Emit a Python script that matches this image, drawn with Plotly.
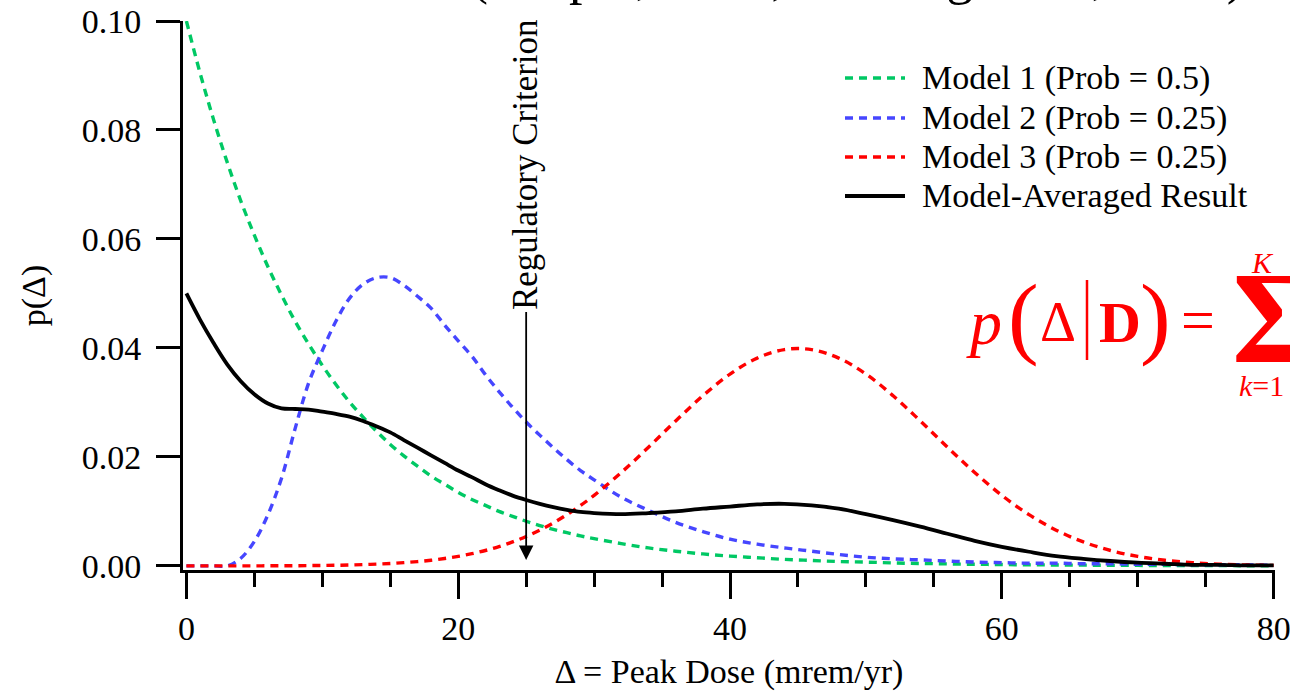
import plotly.graph_objects as go

# ---------------- data ----------------
dose = list(range(0, 31)) + list(range(32, 81, 2))

model1 = [0.1000, 0.0905, 0.0819, 0.0741, 0.0670, 0.0607, 0.0549, 0.0497, 0.0449, 0.0407,
          0.0368, 0.0333, 0.0301, 0.0273, 0.0247, 0.0223, 0.0202, 0.0183, 0.0165, 0.0150,
          0.0135, 0.0122, 0.0111, 0.0100, 0.0091, 0.0082, 0.0074, 0.0067, 0.0061, 0.0055,
          0.0050,
          0.0041, 0.0033, 0.0027, 0.0022, 0.0018, 0.0015, 0.0012, 0.0010, 0.0008, 0.0007,
          0.00055, 0.00045, 0.00037, 0.0003, 0.00025, 0.0002, 0.00017, 0.00014, 0.00011, 0.00009,
          0.00007, 0.00006, 0.00005, 0.00004, 0.00003]

model2 = [0.0, 0.0, 0.0, 0.0, 0.0014, 0.0045, 0.0094, 0.0161, 0.0252, 0.0336,
          0.0395, 0.0449, 0.0491, 0.0517, 0.0529, 0.0529, 0.0515, 0.0495, 0.0473, 0.0442,
          0.0413, 0.0385, 0.0351, 0.0320, 0.0291, 0.0264, 0.0240, 0.0217, 0.0195, 0.0175,
          0.0158,
          0.0126, 0.0102, 0.0080, 0.0063, 0.0049, 0.0040, 0.0033, 0.0027, 0.0021, 0.0016,
          0.0013, 0.0011, 0.0009, 0.0007, 0.0006, 0.0005, 0.0005, 0.0004, 0.0004, 0.0003,
          0.0003, 0.0002, 0.0002, 0.0002, 0.0001]

model3 = [0.00000, 0.00000, 0.00000, 0.00001, 0.00001, 0.00001, 0.00002, 0.00003, 0.00004, 0.00006,
          0.00009, 0.00012, 0.00017, 0.00024, 0.00033, 0.00044, 0.00060, 0.00079, 0.00104, 0.00136,
          0.00175, 0.00224, 0.00283, 0.00355, 0.00440, 0.00540, 0.00656, 0.00790, 0.00940, 0.01109,
          0.01295,
          0.01714, 0.02178, 0.02661, 0.03122, 0.03521, 0.03814, 0.03970, 0.03970, 0.03814, 0.03521,
          0.03122, 0.02661, 0.02178, 0.01714, 0.01295, 0.00940, 0.00656, 0.00440, 0.00283, 0.00175,
          0.00104, 0.00060, 0.00033, 0.00017, 0.00009]

averaged = [0.0500, 0.0452, 0.0409, 0.0370, 0.0339, 0.0315, 0.0298, 0.0289, 0.0288, 0.0287,
            0.0283, 0.0279, 0.0274, 0.0266, 0.0256, 0.0245, 0.0231, 0.0217, 0.0203, 0.0189,
            0.0175, 0.0163, 0.0150, 0.0139, 0.0129, 0.0121, 0.0114, 0.0108, 0.0103, 0.0099,
            0.0097,
            0.0095, 0.0097, 0.0100, 0.0105, 0.0109, 0.0113, 0.0114, 0.0111, 0.0105, 0.0095,
            0.0084, 0.0072, 0.0059, 0.0046, 0.0035, 0.0026, 0.0018, 0.0013, 0.0009, 0.0006,
            0.0004, 0.0002, 0.0002, 0.0001, 0.0001]

series_names = ["Model 1 (Prob = 0.5)", "Model 2 (Prob = 0.25)",
                "Model 3 (Prob = 0.25)", "Model-Averaged Result"]
criterion = 25
x_ticks = [0, 20, 40, 60, 80]
y_ticks = [0.00, 0.02, 0.04, 0.06, 0.08, 0.10]

# ---------------- styling ----------------
FONT = "Liberation Serif, Times New Roman, serif"
FS = 34
GREEN, BLUE, RED, BLACK = "#00C864", "#4646FF", "#FF0000", "#000000"
DASH = "8px,6px"

W_FIG, H_FIG = 1290, 691
L, R, T, B = 183, 1275, 21, 570


def px(xp):
    return (xp - L) / (R - L)


def py(yp):
    return (B - yp) / (B - T)


fig = go.Figure()
styles = [(model1, GREEN, DASH, 3.4), (model2, BLUE, DASH, 3.4),
          (model3, RED, DASH, 3.4), (averaged, BLACK, "solid", 3.8)]
for (ys, col, dash, w), name in zip(styles, series_names):
    fig.add_trace(go.Scatter(x=dose, y=ys, mode="lines", name=name,
                             line=dict(color=col, width=w, dash=dash, shape="spline"),
                             showlegend=False, cliponaxis=False))

annotations = []
shapes = []

# manual legend (long line samples as in the reference)
leg_rows = [78, 118, 157, 196]
for (ys, col, dash, w), name, yr in zip(styles, series_names, leg_rows):
    shapes.append(dict(type="line", xref="paper", yref="paper",
                       x0=px(845), x1=px(905), y0=py(yr), y1=py(yr),
                       line=dict(color=col, width=w, dash=dash)))
    annotations.append(dict(xref="paper", yref="paper", x=px(920), y=py(yr),
                            xanchor="left", yanchor="middle", showarrow=False,
                            text=name, font=dict(family=FONT, size=FS, color="black")))

# regulatory criterion arrow
annotations.append(dict(x=criterion, y=0.0011, xref="x", yref="y",
                        text="Regulatory Criterion", textangle=-90,
                        showarrow=True, ax=0, ay=-395, arrowhead=2, arrowsize=1.6,
                        arrowwidth=1.8, arrowcolor="black",
                        font=dict(family=FONT, size=35, color="black")))


# red formula on the right (partly cut off by the page edge, as in the reference)
def fa(xp, yp, text, size, **kw):
    d = dict(xref="paper", yref="paper", x=px(xp), y=py(yp), text=text, showarrow=False,
             xanchor="center", yanchor="middle",
             font=dict(family=FONT, size=size, color=RED))
    d.update(kw)
    annotations.append(d)


fa(984, 322, "<i>p</i>", 64)
fa(1023, 316, "(", 92)
fa(1058, 322, "Δ", 56)
fa(1120, 322, "<b>D</b>", 58)
fa(1155, 316, ")", 92)
fa(1198, 320, "=", 60)
fa(1230, 318, "<b>Σ</b>", 132, xanchor="left")
fa(1262, 262, "<i>K</i>", 30)
fa(1237, 385, "<i>k</i>=1", 30, xanchor="left")
shapes.append(dict(type="line", xref="paper", yref="paper",
                   x0=px(1087), x1=px(1087), y0=py(280), y1=py(360),
                   line=dict(color=RED, width=2.5)))

# title line cut off at the top of the page (only its lower part is visible)
annotations.append(dict(xref="paper", yref="paper", x=px(857), y=py(-25),
                        text="(Draper, 1995; Hoeting et al., 1999)", showarrow=False,
                        xanchor="center", yanchor="middle",
                        font=dict(family=FONT, size=54, color="black")))

fig.update_layout(
    width=W_FIG, height=H_FIG,
    margin=dict(l=L, r=W_FIG - R, t=T, b=H_FIG - B, pad=0, autoexpand=False),
    paper_bgcolor="white", plot_bgcolor="white",
    font=dict(family=FONT, size=FS, color="black"),
    showlegend=False,
    annotations=annotations, shapes=shapes,
    xaxis=dict(range=[-0.25, 80.1], tickvals=x_ticks, ticks="outside", ticklen=26,
               tickwidth=3, tickcolor="black", showline=True, linewidth=3, linecolor="black",
               showgrid=False, zeroline=False, ticklabelstandoff=0, automargin=False,
               ticklabeloverflow="allow",
               minor=dict(dtick=5, tick0=0, ticks="outside", ticklen=14, tickwidth=3,
                          tickcolor="black", showgrid=False),
               title=dict(text="Δ = Peak Dose (mrem/yr)", standoff=22,
                          font=dict(family=FONT, size=FS))),
    yaxis=dict(range=[-0.00075, 0.1], tickvals=y_ticks, tickformat=".2f",
               ticks="outside", ticklen=24, tickwidth=3, tickcolor="black",
               showline=True, linewidth=3, linecolor="black", automargin=False,
               showgrid=False, zeroline=False, ticklabelstandoff=8,
               ticklabeloverflow="allow",
               title=dict(text="p(Δ)", standoff=26, font=dict(family=FONT, size=FS))),
)

fig.write_html("out.html")
